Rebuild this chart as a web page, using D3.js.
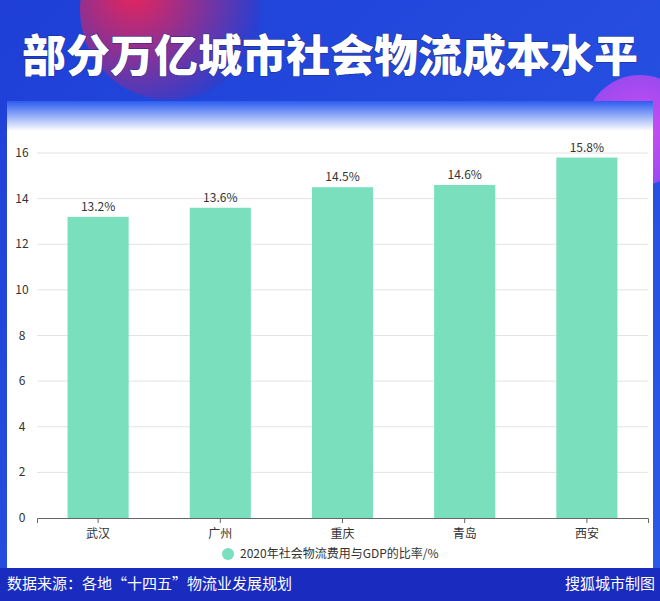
<!DOCTYPE html><html><head><meta charset="utf-8"><script src="https://cdn.jsdelivr.net/npm/d3@7"></script>
<style>body{margin:0}svg{display:block}text{font-family:"Noto Sans CJK SC","Noto Sans",sans-serif}</style></head><body><svg id="c" width="660" height="601"></svg><script>
const cities=["武汉","广州","重庆","青岛","西安"];
const values=[13.2,13.6,14.5,14.6,15.8];
const yTicks=[0,2,4,6,8,10,12,14,16];
const title="部分万亿城市社会物流成本水平";
const legendLabel="2020年社会物流费用与GDP的比率/%";
const source="数据来源：各地“十四五”物流业发展规划";
const credit="搜狐城市制图";
const svg=d3.select("#c");
const defs=svg.append("defs");
const bg=defs.append("linearGradient").attr("id","bg").attr("x1",0).attr("y1",0).attr("x2",1).attr("y2",1);
bg.append("stop").attr("offset",0).attr("stop-color","#1f3fd6");bg.append("stop").attr("offset",1).attr("stop-color","#2a5ae8");
const pg=defs.append("linearGradient").attr("id","pg").attr("x1",0).attr("y1",0).attr("x2",0).attr("y2",1);
pg.append("stop").attr("offset",0).attr("stop-color","#2c5cf0");pg.append("stop").attr("offset",1).attr("stop-color","#ffffff");
const rg=defs.append("radialGradient").attr("id","rg").attr("cx","30%").attr("cy","40%").attr("r","70%");
rg.append("stop").attr("offset",0).attr("stop-color","#e8245a");rg.append("stop").attr("offset",1).attr("stop-color","#2a3fd0");
const mg=defs.append("radialGradient").attr("id","mg");
mg.append("stop").attr("offset",0).attr("stop-color","#d04ef0");mg.append("stop").attr("offset",1).attr("stop-color","#9a4af0");
svg.append("rect").attr("width",660).attr("height",601).attr("fill","url(#bg)");
svg.append("circle").attr("cx",170).attr("cy",10).attr("r",90).attr("fill","url(#rg)");
svg.append("circle").attr("cx",640).attr("cy",130).attr("r",55).attr("fill","url(#mg)");
svg.append("rect").attr("x",0).attr("y",568).attr("width",660).attr("height",33).attr("fill","#1a2bbf");
svg.append("rect").attr("x",7).attr("y",101).attr("width",646).attr("height",467).attr("fill","#fff");
svg.append("rect").attr("x",7).attr("y",101).attr("width",646).attr("height",30).attr("fill","url(#pg)");
svg.append("text").attr("x",330).attr("y",72).attr("text-anchor","middle").attr("fill","#fff").attr("font-size",44).attr("font-weight",900).attr("stroke","#1a2a8a").attr("stroke-width",1).attr("paint-order","stroke").text(title);
const x=d3.scaleBand().domain(cities).range([37,648]).paddingInner(0.5).paddingOuter(0.25);
const y=d3.scaleLinear().domain([0,16]).range([518,153]);
const g=svg.append("g");
g.selectAll(".gl").data(yTicks.filter(d=>d>0)).join("line").attr("x1",37).attr("x2",648).attr("y1",d=>y(d)).attr("y2",d=>y(d)).attr("stroke","#e3e3e3");
g.selectAll(".yl").data(yTicks).join("text").attr("x",22).attr("y",d=>y(d)+4).attr("text-anchor","middle").attr("font-size",12).attr("fill","#333").text(d=>d);
g.selectAll(".bar").data(values).join("rect").attr("x",(d,i)=>x(cities[i])).attr("width",x.bandwidth()).attr("y",d=>y(d)).attr("height",d=>518-y(d)).attr("fill","#79dfbd");
g.selectAll(".vl").data(values).join("text").attr("x",(d,i)=>x(cities[i])+x.bandwidth()/2).attr("y",d=>y(d)-6).attr("text-anchor","middle").attr("font-size",12).attr("fill","#333").text(d=>d.toFixed(1)+"%");
const ax=svg.append("g").attr("transform","translate(0,518)").call(d3.axisBottom(x).tickSize(5).tickPadding(6));
ax.select(".domain").attr("stroke","#666");ax.selectAll("line").attr("stroke","#666");
ax.selectAll("text").attr("font-size",12).attr("fill","#333").style("font-family",'"Noto Sans CJK SC"');
svg.append("circle").attr("cx",228).attr("cy",554).attr("r",6).attr("fill","#79dfbd");
svg.append("text").attr("x",240).attr("y",558).attr("font-size",12).attr("fill","#333").text(legendLabel);
svg.append("text").attr("x",7).attr("y",589).attr("font-size",15).attr("fill","#fff").text(source);
svg.append("text").attr("x",655).attr("y",589).attr("text-anchor","end").attr("font-size",15).attr("fill","#fff").text(credit);
</script></body></html>
